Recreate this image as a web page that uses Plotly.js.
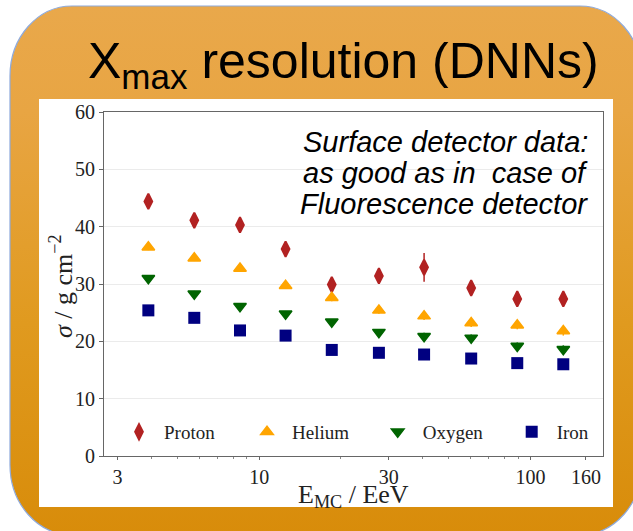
<!DOCTYPE html>
<html>
<head>
<meta charset="utf-8">
<script src="https://cdn.plot.ly/plotly-3.0.1.min.js"></script>
<style>
  html, body { margin: 0; padding: 0; background: #ffffff; }
  #chart { width: 633px; height: 531px; }
</style>
</head>
<body>
<div id="chart"></div>
<script>
// ---- data ----
const energyEeV = [3.9, 5.76, 8.49, 12.5, 18.5, 27.6, 40.5, 60.4, 89.3, 132];
const protonSigma = [44.4, 41.1, 40.3, 36.1, 29.9, 31.4, 32.9, 29.3, 27.4, 27.4];
const protonErr   = [0.7, 0.7, 0.8, 0.9, 0.9, 1.0, 2.5, 1.0, 1.0, 1.0];
const heliumSigma = [36.4, 34.5, 32.7, 29.7, 27.6, 25.4, 24.4, 23.2, 22.8, 21.8];
const heliumErr   = [0.5, 0.5, 0.5, 0.5, 0.6, 0.6, 0.7, 0.7, 0.7, 0.8];
const oxygenSigma = [31.0, 28.3, 26.1, 24.8, 23.4, 21.6, 20.9, 20.6, 19.2, 18.6];
const oxygenErr   = [0.5, 0.5, 0.5, 0.5, 0.5, 0.5, 0.6, 0.6, 0.6, 0.7];
const ironSigma   = [25.4, 24.1, 21.9, 21.0, 18.5, 18.0, 17.7, 17.0, 16.2, 16.0];
const ironErr     = [0.5, 0.5, 0.5, 0.5, 0.5, 0.5, 0.5, 0.5, 0.5, 0.6];
const seriesNames = ["Proton", "Helium", "Oxygen", "Iron"];
const xTickVals = [3, 10, 30, 100, 160];
const xTickText = ["3", "10", "30", "100", "160"];
const xMinorVals = [4, 5, 6, 7, 8, 9, 20, 40, 50, 60, 70, 80, 90];
const yTickVals = [0, 10, 20, 30, 40, 50, 60];
const titleText = "X<sub>max</sub> resolution (DNNs)";
const xTitleText = "E<sub>MC</sub> / EeV";
const yTitleText = "<i>σ</i> / g cm<sup>−2</sup>";
const noteLines = ["Surface detector data:", "as good as in  case of", "Fluorescence detector"];

// ---- figure geometry ----
const W = 633, H = 531;
const M = {l: 104, r: 30, t: 112, b: 75};
const PW = W - M.l - M.r, PH = H - M.t - M.b;
const px = x => (x - M.l) / PW;          // pixel -> paper x
const py = y => (H - M.b - y) / PH;      // pixel -> paper y

const serif = "Liberation Serif, Times New Roman, serif";
const sans = "Liberation Sans, Arial, sans-serif";

function mk(name, y, err, color, symbol, size, lw, legendId) {
  return {
    type: "scatter", mode: "markers", name: name, legend: legendId,
    x: energyEeV, y: y,
    error_y: {type: "data", array: err, visible: true, color: color, thickness: 1.5, width: 0},
    marker: {symbol: symbol, size: size, color: color, line: {color: color, width: lw}},
    cliponaxis: false
  };
}

const traces = [
  mk(seriesNames[0], protonSigma, protonErr, "#b22222", "diamond-tall", 11, 2, "legend"),
  mk(seriesNames[1], heliumSigma, heliumErr, "#ffa500", "triangle-up", 11, 1.5, "legend2"),
  mk(seriesNames[2], oxygenSigma, oxygenErr, "#006400", "triangle-down", 11, 1.5, "legend3"),
  mk(seriesNames[3], ironSigma, ironErr, "#000080", "square", 12, 0, "legend4")
];

// decorative slide frame (rounded orange panel with white inner panel)
const frameSvg =
  '<svg xmlns="http://www.w3.org/2000/svg" width="633" height="531" viewBox="0 0 633 531">' +
  '<defs><linearGradient id="g" x1="0" y1="0" x2="0" y2="1">' +
  '<stop offset="0" stop-color="#e9a84b"/>' +
  '<stop offset="0.2" stop-color="#e8a543"/>' +
  '<stop offset="0.6" stop-color="#e09a1f"/>' +
  '<stop offset="1" stop-color="#d88c0a"/>' +
  '</linearGradient></defs>' +
  '<rect x="10" y="6" width="632" height="529" rx="62" ry="70" fill="url(#g)" stroke="#8eaadc" stroke-width="1.2"/>' +
  '<rect x="39" y="99" width="574" height="408" fill="#ffffff"/>' +
  '</svg>';

const annotations = [
  {text: titleText, xref: "paper", yref: "paper", x: px(343), y: py(64.5),
   xanchor: "center", yanchor: "middle", showarrow: false,
   font: {family: sans, size: 50, color: "#000000"}},
  {text: yTitleText, xref: "paper", yref: "paper", x: px(61), y: py(286),
   xanchor: "center", yanchor: "middle", textangle: -90, showarrow: false,
   font: {family: serif, size: 26, color: "#222222"}},
  {text: xTitleText, xref: "paper", yref: "paper", x: px(353.5), y: py(496),
   xanchor: "center", yanchor: "middle", showarrow: false,
   font: {family: serif, size: 26, color: "#222222"}}
];
const noteCenters = [142.3, 173.3, 204.3];
noteLines.forEach((t, i) => annotations.push({
  text: t, xref: "paper", yref: "paper", x: px(590), y: py(noteCenters[i]),
  xanchor: "right", yanchor: "middle", showarrow: false,
  font: {family: sans, size: 29, color: "#000000", style: "italic"}
}));

function leg(markerX) {
  return {
    orientation: "h", x: px(markerX - 25), y: py(432), xanchor: "left", yanchor: "middle",
    bgcolor: "rgba(0,0,0,0)", itemwidth: 40,
    font: {family: serif, size: 19, color: "#222222"}
  };
}

const layout = {
  width: W, height: H,
  margin: M,
  paper_bgcolor: "#ffffff",
  plot_bgcolor: "#ffffff",
  showlegend: true,
  legend: leg(139),
  legend2: leg(267),
  legend3: leg(397.7),
  legend4: leg(531.7),
  xaxis: {
    type: "log", range: [0.4276, 2.2669], autorange: false,
    tickmode: "array", tickvals: xTickVals, ticktext: xTickText,
    ticks: "outside", ticklen: 3, tickcolor: "#666666", tickwidth: 1,
    minor: {tickmode: "array", tickvals: xMinorVals, ticks: "outside", ticklen: 2, tickcolor: "#888888", showgrid: false},
    showline: true, linecolor: "#666666", linewidth: 1, mirror: true,
    showgrid: false, zeroline: false,
    tickfont: {family: serif, size: 20, color: "#222222"},
    automargin: false
  },
  yaxis: {
    range: [0, 60], autorange: false,
    tickmode: "array", tickvals: yTickVals,
    ticks: "outside", ticklen: 4, tickcolor: "#666666", tickwidth: 1,
    showline: true, linecolor: "#666666", linewidth: 1, mirror: true,
    showgrid: true, gridcolor: "#ebebeb", gridwidth: 1, zeroline: false,
    tickfont: {family: serif, size: 20, color: "#222222"},
    automargin: false
  },
  annotations: annotations,
  images: [{
    source: "data:image/svg+xml;charset=utf-8," + encodeURIComponent(frameSvg),
    xref: "paper", yref: "paper",
    x: px(0), y: py(0), sizex: W / PW, sizey: H / PH,
    xanchor: "left", yanchor: "top", sizing: "stretch", layer: "below", opacity: 1
  }]
};

Plotly.newPlot("chart", traces, layout, {displayModeBar: false, staticPlot: true});
</script>
</body>
</html>
